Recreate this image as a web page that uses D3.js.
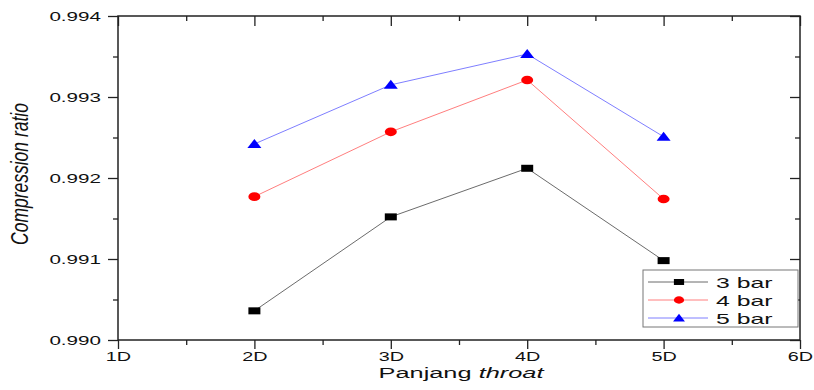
<!DOCTYPE html>
<html>
<head>
<meta charset="utf-8">
<script src="https://cdn.jsdelivr.net/npm/d3@7"></script>
<style>
  body { margin: 0; background: #fff; }
  text { font-family: "Liberation Sans", Arial, sans-serif; fill: #111; }
</style>
</head>
<body>
<svg id="chart" width="814" height="390"></svg>
<script>
// values
var xTicks = [1, 2, 3, 4, 5, 6];
var xLabels = ["1D", "2D", "3D", "4D", "5D", "6D"];
var yTicks = [0.990, 0.991, 0.992, 0.993, 0.994];
var positions = [2, 3, 4, 5];
var bar3 = [0.99036, 0.99152, 0.99212, 0.99098];
var bar4 = [0.99177, 0.99257, 0.99321, 0.99174];
var bar5 = [0.99242, 0.99315, 0.99353, 0.99251];
var seriesNames = ["3 bar", "4 bar", "5 bar"];

// the original picture is stretched sideways, so text is too
var SX = 1.65;

var svg = d3.select("#chart");
// note: "top" is taken by window.top, so use plot* names
var plotLeft = 118, plotRight = 800, plotTop = 16, plotBottom = 340;

var x = d3.scaleLinear().domain([1, 6]).range([plotLeft, plotRight]);
var y = d3.scaleLinear().domain([0.990, 0.994]).range([plotBottom, plotTop]);

var series = [
    {name: seriesNames[0], values: bar3, line: "#5a5a5a", fill: "#000", shape: "square"},
    {name: seriesNames[1], values: bar4, line: "#ff6f6f", fill: "#f00", shape: "circle"},
    {name: seriesNames[2], values: bar5, line: "#6f6fff", fill: "#00f", shape: "triangle"}
];

function halfSteps(ticks) {
    var out = [];
    for (var i = 0; i < ticks.length - 1; i++) {
        out.push((ticks[i] + ticks[i + 1]) / 2);
    }
    return out;
}

function styleAxis(g) {
    g.select(".domain").remove();
    g.selectAll(".tick line").attr("stroke", "#222").attr("stroke-width", 1.3);
}

// minor ticks
svg.append("g").attr("transform", "translate(" + plotLeft + ",0)")
    .call(d3.axisLeft(y).tickValues(halfSteps(yTicks)).tickSize(5).tickFormat(""))
    .call(styleAxis);
svg.append("g").attr("transform", "translate(" + plotRight + ",0)")
    .call(d3.axisLeft(y).tickValues(halfSteps(yTicks)).tickSize(5).tickFormat(""))
    .call(styleAxis);
svg.append("g").attr("transform", "translate(0," + plotBottom + ")")
    .call(d3.axisBottom(x).tickValues(halfSteps(xTicks)).tickSize(5).tickFormat(""))
    .call(styleAxis);
svg.append("g").attr("transform", "translate(0," + plotTop + ")")
    .call(d3.axisBottom(x).tickValues(halfSteps(xTicks)).tickSize(5).tickFormat(""))
    .call(styleAxis);

// major ticks
var yAxis = svg.append("g").attr("transform", "translate(" + plotLeft + ",0)")
    .call(d3.axisLeft(y).tickValues(yTicks).tickSize(10).tickFormat(d3.format(".3f")))
    .call(styleAxis);
yAxis.selectAll(".tick text")
    .attr("x", -17 / SX).attr("dy", "0.36em")
    .attr("transform", "scale(" + SX + ",1)")
    .style("font-size", "12.5px");

svg.append("g").attr("transform", "translate(" + plotRight + ",0)")
    .call(d3.axisLeft(y).tickValues(yTicks).tickSize(10).tickFormat(""))
    .call(styleAxis);

var xAxis = svg.append("g").attr("transform", "translate(0," + plotBottom + ")")
    .call(d3.axisBottom(x).tickValues(xTicks).tickSize(9).tickFormat(function(d, i) { return xLabels[i]; }))
    .call(styleAxis);
xAxis.selectAll(".tick text")
    .attr("y", 21).attr("dy", 0)
    .attr("transform", "scale(" + SX + ",1)")
    .style("font-size", "12px");

svg.append("g").attr("transform", "translate(0," + plotTop + ")")
    .call(d3.axisBottom(x).tickValues(xTicks).tickSize(10).tickFormat(""))
    .call(styleAxis);

// frame
svg.append("rect")
    .attr("x", plotLeft).attr("y", plotTop)
    .attr("width", plotRight - plotLeft).attr("height", plotBottom - plotTop)
    .attr("fill", "none").attr("stroke", "#222").attr("stroke-width", 1.5);

// titles
svg.append("text")
    .attr("transform", "translate(28,174) scale(1.35,1) rotate(-90)")
    .attr("text-anchor", "middle")
    .style("font-size", "17.5px").style("font-style", "italic")
    .text("Compression ratio");

var xt = svg.append("text")
    .attr("transform", "translate(461,378) scale(1.75,1)")
    .attr("text-anchor", "middle")
    .style("font-size", "14.5px");
xt.append("tspan").text("Panjang ");
xt.append("tspan").style("font-style", "italic").text("throat");

function drawMarker(g, shape, cx, cy, fill, s) {
    if (shape === "square") {
        g.append("rect").attr("x", cx - 6 * s).attr("y", cy - 3.5 * s)
            .attr("width", 12 * s).attr("height", 7 * s).attr("fill", fill);
    } else if (shape === "circle") {
        g.append("ellipse").attr("cx", cx).attr("cy", cy)
            .attr("rx", 6 * s).attr("ry", 4.3 * s).attr("fill", fill);
    } else {
        g.append("path")
            .attr("d", "M" + (cx - 7 * s) + "," + (cy + 4 * s) + "L" + cx + "," + (cy - 5 * s) +
                "L" + (cx + 7 * s) + "," + (cy + 4 * s) + "Z")
            .attr("fill", fill);
    }
}

var line = d3.line()
    .x(function(d, i) { return x(positions[i]); })
    .y(function(d) { return y(d); });

series.forEach(function(s) {
    var g = svg.append("g");
    g.append("path").datum(s.values)
        .attr("d", line)
        .attr("fill", "none")
        .attr("stroke", s.line)
        .attr("stroke-width", 0.9);
    s.values.forEach(function(v, i) {
        drawMarker(g, s.shape, x(positions[i]), y(v), s.fill, 1);
    });
});

// legend
var legend = svg.append("g");
legend.append("rect")
    .attr("x", 643).attr("y", 270).attr("width", 155).attr("height", 57)
    .attr("fill", "#fff").attr("stroke", "#777").attr("stroke-width", 1);
series.forEach(function(s, i) {
    var ly = 282 + i * 18;
    legend.append("line")
        .attr("x1", 648).attr("x2", 708).attr("y1", ly).attr("y2", ly)
        .attr("stroke", s.line).attr("stroke-width", 0.9);
    drawMarker(legend, s.shape, 679, ly, s.fill, 0.85);
    legend.append("text")
        .attr("transform", "translate(716," + (ly + 5.5) + ") scale(" + SX + ",1)")
        .style("font-size", "15px")
        .text(s.name);
});
</script>
</body>
</html>
